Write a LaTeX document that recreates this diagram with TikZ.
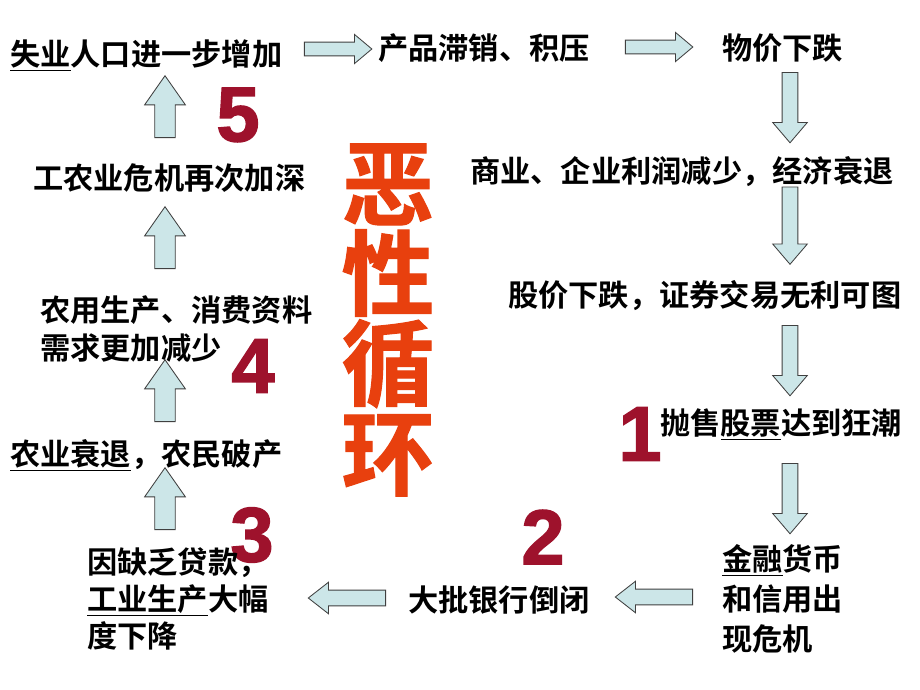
\documentclass[tikz,border=0pt]{standalone}
\usepackage{fontspec}
\newfontfamily\cjk{Noto Sans CJK SC}[BoldFont={Noto Sans CJK SC Bold}]
\newfontfamily\titlefont{Noto Sans CJK SC Bold}[FakeBold=1.2]
\newfontfamily\numfont{Liberation Sans Bold}[FakeBold=2]
\usetikzlibrary{shapes.arrows}
\definecolor{arrowfill}{RGB}{204,230,232}
\definecolor{numred}{RGB}{158,18,44}
\definecolor{titlered}{RGB}{232,64,14}

\begin{document}
\begin{tikzpicture}[x=0.025cm, y=-0.025cm,
    txt/.style={anchor=west, inner sep=0pt, align=left,
        font=\cjk\bfseries\fontsize{21.5}{26.5}\selectfont},
    num/.style={inner sep=0pt, text=numred,
        font=\numfont\fontsize{55}{55}\selectfont},
    barrow/.style={single arrow, draw=black!75, fill=arrowfill, line width=0.6pt},
    rightarrow/.style={barrow, inner sep=4.6pt, single arrow head extend=5.5pt,
        single arrow tip angle=80, minimum height=48pt, shape border rotate=0},
    leftarrow/.style={barrow, inner sep=5.3pt, single arrow head extend=5.6pt,
        single arrow tip angle=76, minimum height=55pt, shape border rotate=180},
    downarrow/.style={barrow, inner sep=5.3pt, single arrow head extend=6.7pt,
        single arrow tip angle=81, minimum height=50pt, shape border rotate=270},
    uparrow/.style={barrow, inner sep=7pt, single arrow head extend=7.2pt,
        single arrow tip angle=70, minimum height=44pt, shape border rotate=90}]
    \useasboundingbox[fill=white] (0,0) rectangle (920,690);
    % the title in the middle
    \node[inner sep=0pt, align=center, text=titlered,
        font=\titlefont\fontsize{66}{64}\selectfont] (title) at (388,320)
        {恶\\性\\循\\环};
    % the big numbers (behind the texts)
    \node[num] (n1) at (640,434) {1};
    \node[num] (n2) at (543,537) {2};
    \node[num] (n3) at (252,535) {3};
    \node[num] (n4) at (253,366) {4};
    \node[num] (n5) at (238,115) {5};
    % the steps of the cycle
    \node[txt] (unemp) at (10,55) {\underline{失业}人口进一步增加};
    \node[txt] (unsold) at (378,48) {产品滞销、积压};
    \node[txt] (prices) at (722,48) {物价下跌};
    \node[txt] (profit) at (470,172) {商业、企业利润减少，经济衰退};
    \node[txt] (stocks) at (508,296) {股价下跌，证券交易无利可图};
    \node[txt] (sell) at (660,424) {抛售\underline{股票}达到狂潮};
    \node[txt, font=\cjk\bfseries\fontsize{21.5}{28.5}\selectfont] (credit) at (722,599)
        {\underline{金融}货币\\和信用出\\现危机};
    \node[txt] (banks) at (408,600) {大批银行倒闭};
    \node[txt] (industry) at (87,599) {因缺乏贷款，\\\underline{工业生产}大幅\\度下降};
    \node[txt] (farm) at (10,455) {\underline{农业衰退}，农民破产};
    \node[txt] (demand) at (40,329) {农用生产、消费资料\\需求更加减少};
    \node[txt] (crisis) at (33,178) {工农业危机再次加深};
    % the block arrows between the steps
    \node[rightarrow] (a1) at (334,49) {};
    \node[rightarrow] (a2) at (655,47) {};
    \node[downarrow] (a3) at (790,103) {};
    \node[downarrow, minimum height=55pt] (a4) at (790,221) {};
    \node[downarrow] (a5) at (790,356) {};
    \node[downarrow] (a6) at (790,494) {};
    \node[leftarrow] (a7) at (659,597) {};
    \node[leftarrow] (a8) at (352,598) {};
    \node[uparrow] (a9) at (165,506) {};
    \node[uparrow] (a10) at (165,398) {};
    \node[uparrow] (a11) at (165,245) {};
    \node[uparrow] (a12) at (165,114) {};
\end{tikzpicture}
\end{document}
